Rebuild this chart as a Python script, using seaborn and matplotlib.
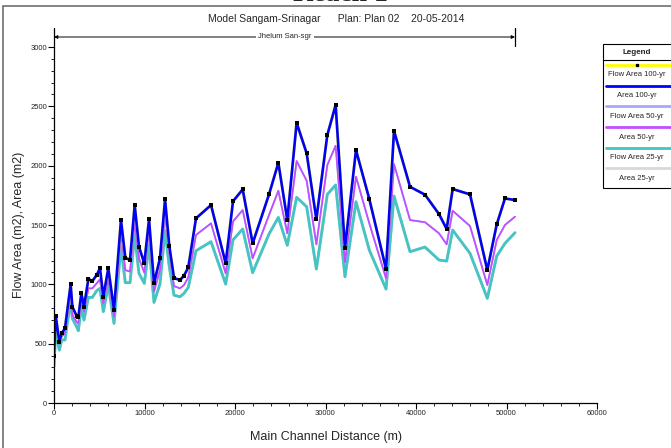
import matplotlib
matplotlib.use("Agg")
import matplotlib.pyplot as plt
import seaborn as sns
import pandas as pd
from matplotlib.lines import Line2D
from matplotlib.patches import Rectangle
from matplotlib.ticker import MultipleLocator

# ---------------- data ----------------
distance = [0, 190, 590, 850, 1215, 1840, 2025, 2500, 2690, 3020, 3315, 3800, 4240, 4715,
            5080, 5450, 6000, 6630, 7400, 7880, 8400, 8915, 9390, 9980, 10500, 11050,
            11710, 12270, 12740, 13260, 13920, 14365, 14840, 15690, 17350, 18970, 19780,
            20850, 21950, 23760, 24790, 25780, 26810, 27920, 28990, 30200, 31120, 32150,
            33370, 34840, 36690, 37570, 39340, 41000, 42540, 43390, 44050, 45970, 47880,
            48920, 49830, 50940]

area_100 = [400, 735, 516, 587, 629, 1000, 811, 733, 722, 924, 811, 1045, 1028, 1078,
            1135, 896, 1135, 784, 1542, 1224, 1205, 1668, 1317, 1177, 1548, 1008,
            1219, 1716, 1323, 1053, 1036, 1073, 1143, 1556, 1668, 1177, 1700,
            1800, 1345, 1758, 2024, 1542, 2361, 2104, 1548, 2258, 2511, 1303,
            2131, 1719, 1129, 2294, 1822, 1755, 1592, 1466, 1803, 1758, 1120,
            1505, 1724, 1710]
flow_area_100 = list(area_100)

area_50 = [360, 670, 497, 560, 587, 924, 741, 685, 671, 853, 769, 966, 966, 1008,
           1042, 840, 1050, 727, 1444, 1120, 1107, 1527, 1219, 1098, 1458, 938,
           1120, 1598, 1261, 985, 966, 994, 1059, 1416, 1514, 1092, 1530,
           1626, 1219, 1584, 1789, 1430, 2039, 1873, 1337, 2005, 2168, 1185,
           1907, 1514, 1050, 2013, 1542, 1523, 1430, 1337, 1620, 1491, 994,
           1373, 1500, 1570]
flow_area_50 = list(area_50)

flow_area_25 = [310, 600, 446, 531, 531, 868, 713, 643, 609, 811, 699, 890, 890, 946,
                966, 770, 994, 671, 1317, 1014, 1014, 1415, 1092, 1008, 1331, 848,
                1003, 1452, 1148, 909, 895, 924, 975, 1283, 1359, 1002, 1375,
                1466, 1098, 1424, 1564, 1329, 1733, 1654, 1129, 1758, 1837, 1064,
                1696, 1289, 960, 1744, 1275, 1314, 1205, 1196, 1457, 1261, 882,
                1238, 1345, 1435]
area_25 = list(flow_area_25)

series_labels = ["Flow Area 100-yr", "Area 100-yr", "Flow Area 50-yr",
                 "Area 50-yr", "Flow Area 25-yr", "Area 25-yr"]
x_ticks = [0, 10000, 20000, 30000, 40000, 50000, 60000]
y_ticks = [0, 500, 1000, 1500, 2000, 2500, 3000]

# ---------------- style ----------------
sns.set_theme(style="white")
plt.rcParams["font.family"] = ["Liberation Sans Narrow", "Liberation Sans", "DejaVu Sans"]

W, H = 671, 448
fig = plt.figure(figsize=(W / 100, H / 100), dpi=100)
ax = fig.add_axes([54 / W, 1 - 403 / H, (597 - 54) / W, (403 - 47) / H])

df = pd.DataFrame({
    "x": distance,
    "fa100": flow_area_100, "a100": area_100,
    "fa50": flow_area_50, "a50": area_50,
    "fa25": flow_area_25, "a25": area_25,
})

styles = {
    "a25":   dict(color="#d8d8d8", lw=2.0),
    "fa25":  dict(color="#45c4c4", lw=2.0),
    "fa50":  dict(color="#a8a8ff", lw=1.3),
    "a50":   dict(color="#c24cff", lw=1.2),
    "fa100": dict(color="#ffff00", lw=2.0),
    "a100":  dict(color="#0000ff", lw=1.9),
}
for col in ["a25", "fa25", "fa50", "a50", "fa100", "a100"]:
    sns.lineplot(data=df, x="x", y=col, ax=ax, color=styles[col]["color"],
                 linewidth=styles[col]["lw"], estimator=None, sort=False, legend=False)
sns.scatterplot(data=df, x="x", y="fa100", ax=ax, color="black", marker="s", s=7,
                linewidth=0, zorder=5, legend=False)

ax.set_xlim(0, 60000)
ax.set_ylim(0, 3000)
ax.set_xticks(x_ticks)
ax.set_yticks(y_ticks)
ax.xaxis.set_minor_locator(MultipleLocator(2000))
ax.yaxis.set_minor_locator(MultipleLocator(100))
ax.tick_params(axis="both", which="major", direction="out", length=4, width=0.8,
               color="black", labelsize=5.5, pad=1, bottom=True, left=True)
ax.tick_params(axis="both", which="minor", direction="out", length=2.5, width=0.6,
               color="black", bottom=True, left=True)
for side in ["top", "right"]:
    ax.spines[side].set_visible(False)
for side in ["left", "bottom"]:
    ax.spines[side].set_color("black")
    ax.spines[side].set_linewidth(0.9)
ax.set_xlabel("Main Channel Distance (m)", fontsize=9, labelpad=10,
              family=["Liberation Sans", "DejaVu Sans"])
ax.set_ylabel("Flow Area (m2), Area (m2)", fontsize=9,
              family=["Liberation Sans", "DejaVu Sans"])
ax.yaxis.set_label_coords((25 - 54) / 543, 0.5)

# reach annotation arrow
tr = ax.get_xaxis_transform()
y_arrow = (403 - 37) / 356
ax.annotate("", xy=(distance[0], y_arrow), xytext=(distance[-1], y_arrow),
            xycoords=tr, textcoords=tr,
            arrowprops=dict(arrowstyle="<|-|>", color="black", lw=0.7,
                            mutation_scale=5, shrinkA=0, shrinkB=0), annotation_clip=False)
for xv in (distance[0], distance[-1]):
    ax.plot([xv, xv], [(403 - 28) / 356, (403 - 46) / 356], transform=tr,
            color="black", lw=0.9, clip_on=False)
ax.text((285 - 54) / 543 * 60000, y_arrow, "Jhelum San-sgr", transform=tr,
        ha="center", va="center", fontsize=5.5,
        bbox=dict(facecolor="white", edgecolor="none", pad=1.5), clip_on=False)

# titles
fig.text(336 / W, 1 - 19 / H,
         "Model Sangam-Srinagar      Plan: Plan 02    20-05-2014",
         ha="center", va="center", fontsize=7.5)
fig.text(340 / W, 1 - 1 / H, "Reach 1", ha="center", va="baseline", fontsize=20,
         fontweight="bold", family=["Liberation Serif", "DejaVu Serif"])

# figure frame
fig.patches.append(Rectangle((3 / W, -0.01), 1.0, 1 - 6 / H + 0.01, transform=fig.transFigure,
                             fill=False, edgecolor="#707070", lw=1.2))

# manual legend
lx0, lx1 = 603, 690
ltop, lbot = 44, 188
fig.patches.append(Rectangle((lx0 / W, 1 - lbot / H), (lx1 - lx0) / W, (lbot - ltop) / H,
                             transform=fig.transFigure, fill=True, facecolor="white",
                             edgecolor="black", lw=0.8, zorder=10))
fig.text(637 / W, 1 - 52 / H, "Legend", ha="center", va="center", fontsize=5.8,
         fontweight="bold", zorder=11)
fig.lines.append(Line2D([lx0 / W, 1.0], [1 - 60 / H, 1 - 60 / H], transform=fig.transFigure,
                        color="black", lw=0.8, zorder=11))
leg_cols = ["fa100", "a100", "fa50", "a50", "fa25", "a25"]
for i, (col, lab) in enumerate(zip(leg_cols, series_labels)):
    yl = 65 + i * 20.7
    fig.lines.append(Line2D([606 / W, 1.0], [1 - yl / H, 1 - yl / H], transform=fig.transFigure,
                            color=styles[col]["color"], lw=2.0, zorder=11))
    if col == "fa100":
        fig.lines.append(Line2D([637 / W], [1 - yl / H], transform=fig.transFigure, marker="s",
                                ms=1.5, color="black", ls="none", zorder=12))
    fig.text(637 / W, 1 - (yl + 10) / H, lab, ha="center", va="center", fontsize=5.5,
             zorder=11)

fig.savefig("out.png", dpi=100)
